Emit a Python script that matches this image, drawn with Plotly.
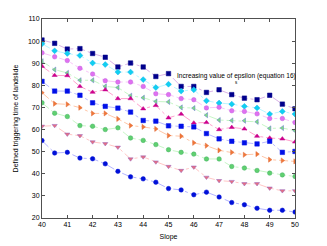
import plotly.graph_objects as go

slope = [40, 40.5, 41, 41.5, 42, 42.5, 43, 43.5, 44, 44.5, 45, 45.5, 46, 46.5, 47, 47.5, 48, 48.5, 49, 49.5, 50]

s1 = [100.5, 99, 96.4, 96.6, 94.4, 92.7, 88.3, 90.1, 88.3, 84, 85.3, 79.5, 79.5, 76.8, 78, 75.8, 74.2, 73.5, 75.5, 71.5, 69.4]
s2 = [98.8, 95.6, 94.4, 93.5, 90.1, 89.4, 86, 86, 82.6, 79, 80.5, 77.4, 78, 73, 72, 71.5, 70.5, 69.8, 67, 68.2, 67]
s3 = [94.7, 92.9, 91.2, 87.7, 85.1, 82.1, 81.5, 81.5, 79.5, 76.2, 75.8, 74, 73.5, 69.8, 70.1, 68.5, 68.2, 67.1, 65, 65, 63.2]
s4 = [90.9, 87.1, 85.6, 82.3, 82.3, 79.5, 79, 75.3, 74.4, 72.7, 72.5, 70, 69.7, 66.5, 64.3, 64.1, 64, 63.5, 60.5, 60.7, 59.5]
s5 = [88.6, 84.5, 84.4, 79.5, 76.9, 78, 74, 74, 69.4, 70.9, 65.3, 67, 63, 63.2, 60, 61, 60.3, 57, 56.2, 55.8, 54.4]
s6 = [81.8, 77.4, 77.4, 75.5, 72.1, 70.5, 69.7, 67.9, 64.1, 63.8, 61.7, 61.5, 61.2, 58.2, 55.8, 54.7, 54, 53.5, 54.7, 49.7, 50.1]
s7 = [76.7, 71.7, 71.4, 69.9, 67.3, 67.3, 64.8, 61.8, 61.2, 60.3, 57.3, 57, 54, 52.7, 50.6, 49.7, 48.6, 48.9, 46.4, 46, 45.6]
s8 = [72.1, 67.4, 65.9, 61.8, 61.5, 60, 60.8, 56.2, 55.1, 53.2, 50.9, 49.7, 48.9, 46.7, 46.7, 43.3, 42.6, 41.5, 40.3, 39.5, 38.8]
s9 = [61.5, 61.8, 57.9, 57.2, 54.4, 53.6, 52, 46.7, 47.6, 45.3, 43.3, 41.5, 43, 38.4, 36.9, 36.5, 35.5, 35.5, 33.5, 32.3, 32.3]
s10 = [55, 49.4, 49.7, 47.1, 46.8, 44.5, 41.1, 38.6, 37.7, 36.2, 33.3, 32.7, 30.5, 31.7, 29.5, 27, 26, 24.4, 23.5, 23.5, 22.7]

series = [s1, s2, s3, s4, s5, s6, s7, s8, s9, s10]
symbols = ["square", "diamond", "circle", "triangle-left", "triangle-up",
           "square", "triangle-right", "circle", "triangle-down", "circle"]
marker_colors = ["#00008c", "#10d0f0", "#e070f0", "#80e080", "#d0008a",
                 "#0010e8", "#f07838", "#60d070", "#e87080", "#0010d8"]
edge_colors = ["#00008c", "#10b0f0", "#c060e0", "#6070d0", "#c00090",
               "#0010e8", "#e06838", "#40b060", "#9060c0", "#0010d8"]
line_colors = ["#d0a0e0", "#a8f4ff", "#f8b8f8", "#b8f4b8", "#ff88c0",
               "#a8a8ff", "#ffb890", "#b8f4b8", "#ffb8b8", "#a0a0ff"]

fig = go.Figure()
for ys, sym, mc, ec, lc in zip(series, symbols, marker_colors, edge_colors, line_colors):
    fig.add_trace(go.Scatter(
        x=slope, y=ys, mode="lines+markers",
        line=dict(color=lc, width=0.8, dash="dashdot"),
        marker=dict(symbol=sym, size=4.5, color=mc, line=dict(color=ec, width=0.5)),
        showlegend=False, hoverinfo="skip",
    ))

fig.add_annotation(x=45.26, y=84.1, xref="x", yref="y", text="Increasing value of epsilon (equation 16)",
                   showarrow=False, xanchor="left", yanchor="middle",
                   font=dict(family="Liberation Sans, Arial", size=6.6, color="#000000"))
fig.add_annotation(x=47.68, y=81.2, xref="x", yref="y", text="s",
                   showarrow=False, xanchor="center", yanchor="middle",
                   font=dict(family="Liberation Sans, Arial", size=4.5, color="#000000"))

axis_common = dict(showgrid=False, zeroline=False, showline=True, linecolor="#505050", linewidth=1,
                   mirror="ticks", ticks="inside", ticklen=3, tickcolor="#505050", automargin=False,
                   tickfont=dict(family="Liberation Sans, Arial", size=7, color="#000000"))

fig.update_xaxes(range=[40, 50], dtick=1, tick0=40,
                 title=dict(text="Slope", font=dict(family="Liberation Sans, Arial", size=7, color="#000000"), standoff=6),
                 **axis_common)
fig.update_yaxes(range=[20, 110], dtick=10, tick0=20,
                 title=dict(text="Defined triggering time of landslide", font=dict(family="Liberation Sans, Arial", size=7, color="#000000"), standoff=8),
                 **axis_common)

fig.update_layout(width=327, height=246, margin=dict(l=42, r=32, t=19, b=28),
                  plot_bgcolor="white", paper_bgcolor="white", hovermode=False)

fig.write_html("out.html", config={"displayModeBar": False, "staticPlot": True},
               post_script="document.body.style.margin='0';document.body.style.overflow='hidden';")
